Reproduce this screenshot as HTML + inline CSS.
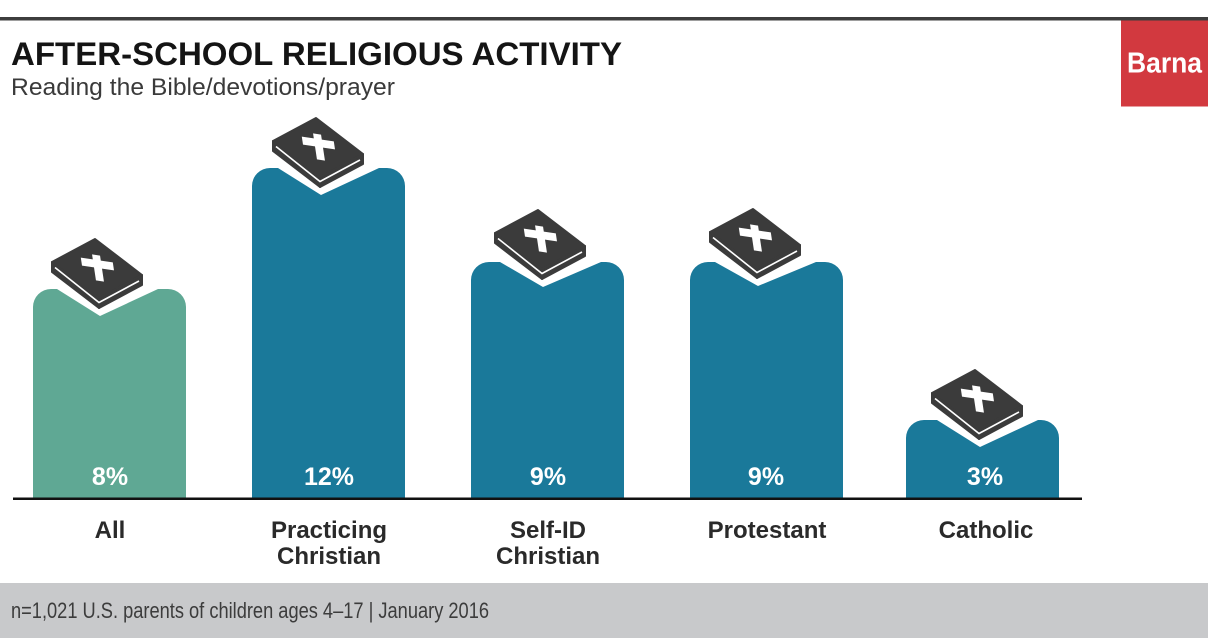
<!DOCTYPE html>
<html>
<head>
<meta charset="utf-8">
<style>
  html,body{margin:0;padding:0;background:#fff;}
  body{width:1208px;height:638px;overflow:hidden;}
  svg{display:block;}
  text{font-family:"Liberation Sans", Arial, sans-serif;}
</style>
</head>
<body>
<svg width="1208" height="638" viewBox="0 0 1208 638" xmlns="http://www.w3.org/2000/svg">
  <rect x="0" y="0" width="1208" height="638" fill="#ffffff"/>
  <!-- top rule -->
  <rect x="0" y="17" width="1208" height="3.5" fill="#3d3d3d"/>
  <!-- Barna logo -->
  <rect x="1121" y="20.5" width="87" height="86" fill="#d2393f"/>
  <text x="1127" y="72.5" font-size="29" font-weight="bold" fill="#ffffff" textLength="75" lengthAdjust="spacingAndGlyphs">Barna</text>

  <!-- title -->
  <text x="11" y="65" font-size="32.5" font-weight="bold" fill="#141414" textLength="611" lengthAdjust="spacingAndGlyphs">AFTER-SCHOOL RELIGIOUS ACTIVITY</text>
  <text x="11" y="95" font-size="24" fill="#3a3a3a" textLength="384" lengthAdjust="spacingAndGlyphs">Reading the Bible/devotions/prayer</text>

  <!-- bars -->
  <path d="M33 498 V307 A18 18 0 0 1 51 289 L57 289 L100 316 L158 289 L168 289 A18 18 0 0 1 186 307 V498 Z" fill="#5fa894"/>
  <path d="M252 498 V186 A18 18 0 0 1 270 168 L278 168 L321 195 L379 168 L387 168 A18 18 0 0 1 405 186 V498 Z" fill="#1a799a"/>
  <path d="M471 498 V280 A18 18 0 0 1 489 262 L500 262 L543 287 L601 262 L606 262 A18 18 0 0 1 624 280 V498 Z" fill="#1a799a"/>
  <path d="M690 498 V280 A18 18 0 0 1 708 262 L715 262 L758 286 L816 262 L825 262 A18 18 0 0 1 843 280 V498 Z" fill="#1a799a"/>
  <path d="M906 498 V438 A18 18 0 0 1 924 420 L937 420 L980 447 L1038 420 L1041 420 A18 18 0 0 1 1059 438 V498 Z" fill="#1a799a"/>

  <!-- books -->
  <g transform="translate(100,316)">
    <polygon points="-48,-54 -1,-18 -1,-8 -48,-44" fill="#3b3b3b" stroke="#3b3b3b" stroke-width="2" stroke-linejoin="round"/>
    <polygon points="-1,-18 42,-41 42,-31 -1,-8" fill="#3b3b3b" stroke="#3b3b3b" stroke-width="2" stroke-linejoin="round"/>
    <polygon points="-5,-77 42,-41 -1,-18 -48,-54" fill="#3b3b3b" stroke="#3b3b3b" stroke-width="2" stroke-linejoin="round"/>
    <polyline points="-45,-48.5 -1,-13.5 39,-35" fill="none" stroke="#ffffff" stroke-width="1.6"/>
    <polygon transform="matrix(1,0.15,0.15,1,-2,-48)" points="-4,-13 4,-13 4,-8 16,-8 16,0 4,0 4,13 -4,13 -4,0 -16,0 -16,-8 -4,-8" fill="#ffffff"/>
  </g>
  <g transform="translate(321,195)">
    <polygon points="-48,-54 -1,-18 -1,-8 -48,-44" fill="#3b3b3b" stroke="#3b3b3b" stroke-width="2" stroke-linejoin="round"/>
    <polygon points="-1,-18 42,-41 42,-31 -1,-8" fill="#3b3b3b" stroke="#3b3b3b" stroke-width="2" stroke-linejoin="round"/>
    <polygon points="-5,-77 42,-41 -1,-18 -48,-54" fill="#3b3b3b" stroke="#3b3b3b" stroke-width="2" stroke-linejoin="round"/>
    <polyline points="-45,-48.5 -1,-13.5 39,-35" fill="none" stroke="#ffffff" stroke-width="1.6"/>
    <polygon transform="matrix(1,0.15,0.15,1,-2,-48)" points="-4,-13 4,-13 4,-8 16,-8 16,0 4,0 4,13 -4,13 -4,0 -16,0 -16,-8 -4,-8" fill="#ffffff"/>
  </g>
  <g transform="translate(543,287)">
    <polygon points="-48,-54 -1,-18 -1,-8 -48,-44" fill="#3b3b3b" stroke="#3b3b3b" stroke-width="2" stroke-linejoin="round"/>
    <polygon points="-1,-18 42,-41 42,-31 -1,-8" fill="#3b3b3b" stroke="#3b3b3b" stroke-width="2" stroke-linejoin="round"/>
    <polygon points="-5,-77 42,-41 -1,-18 -48,-54" fill="#3b3b3b" stroke="#3b3b3b" stroke-width="2" stroke-linejoin="round"/>
    <polyline points="-45,-48.5 -1,-13.5 39,-35" fill="none" stroke="#ffffff" stroke-width="1.6"/>
    <polygon transform="matrix(1,0.15,0.15,1,-2,-48)" points="-4,-13 4,-13 4,-8 16,-8 16,0 4,0 4,13 -4,13 -4,0 -16,0 -16,-8 -4,-8" fill="#ffffff"/>
  </g>
  <g transform="translate(758,286)">
    <polygon points="-48,-54 -1,-18 -1,-8 -48,-44" fill="#3b3b3b" stroke="#3b3b3b" stroke-width="2" stroke-linejoin="round"/>
    <polygon points="-1,-18 42,-41 42,-31 -1,-8" fill="#3b3b3b" stroke="#3b3b3b" stroke-width="2" stroke-linejoin="round"/>
    <polygon points="-5,-77 42,-41 -1,-18 -48,-54" fill="#3b3b3b" stroke="#3b3b3b" stroke-width="2" stroke-linejoin="round"/>
    <polyline points="-45,-48.5 -1,-13.5 39,-35" fill="none" stroke="#ffffff" stroke-width="1.6"/>
    <polygon transform="matrix(1,0.15,0.15,1,-2,-48)" points="-4,-13 4,-13 4,-8 16,-8 16,0 4,0 4,13 -4,13 -4,0 -16,0 -16,-8 -4,-8" fill="#ffffff"/>
  </g>
  <g transform="translate(980,447)">
    <polygon points="-48,-54 -1,-18 -1,-8 -48,-44" fill="#3b3b3b" stroke="#3b3b3b" stroke-width="2" stroke-linejoin="round"/>
    <polygon points="-1,-18 42,-41 42,-31 -1,-8" fill="#3b3b3b" stroke="#3b3b3b" stroke-width="2" stroke-linejoin="round"/>
    <polygon points="-5,-77 42,-41 -1,-18 -48,-54" fill="#3b3b3b" stroke="#3b3b3b" stroke-width="2" stroke-linejoin="round"/>
    <polyline points="-45,-48.5 -1,-13.5 39,-35" fill="none" stroke="#ffffff" stroke-width="1.6"/>
    <polygon transform="matrix(1,0.15,0.15,1,-2,-48)" points="-4,-13 4,-13 4,-8 16,-8 16,0 4,0 4,13 -4,13 -4,0 -16,0 -16,-8 -4,-8" fill="#ffffff"/>
  </g>

  <!-- value labels -->
  <g font-size="25" font-weight="bold" fill="#ffffff" text-anchor="middle">
    <text x="110" y="485">8%</text>
    <text x="329" y="485">12%</text>
    <text x="548" y="485">9%</text>
    <text x="766" y="485">9%</text>
    <text x="985" y="485">3%</text>
  </g>

  <!-- baseline -->
  <rect x="13" y="497.5" width="1069" height="2.5" fill="#111111"/>

  <!-- category labels -->
  <g font-size="24" font-weight="bold" fill="#2a2a2a" text-anchor="middle">
    <text x="110" y="538">All</text>
    <text x="329" y="538">Practicing</text>
    <text x="329" y="564">Christian</text>
    <text x="548" y="538">Self-ID</text>
    <text x="548" y="564">Christian</text>
    <text x="767" y="538">Protestant</text>
    <text x="986" y="538">Catholic</text>
  </g>

  <!-- footer -->
  <rect x="0" y="583" width="1208" height="55" fill="#c8c9cb"/>
  <text x="11" y="618" font-size="22" fill="#3c3c3c" textLength="478" lengthAdjust="spacingAndGlyphs">n=1,021 U.S. parents of children ages 4–17 | January 2016</text>
</svg>
</body>
</html>
